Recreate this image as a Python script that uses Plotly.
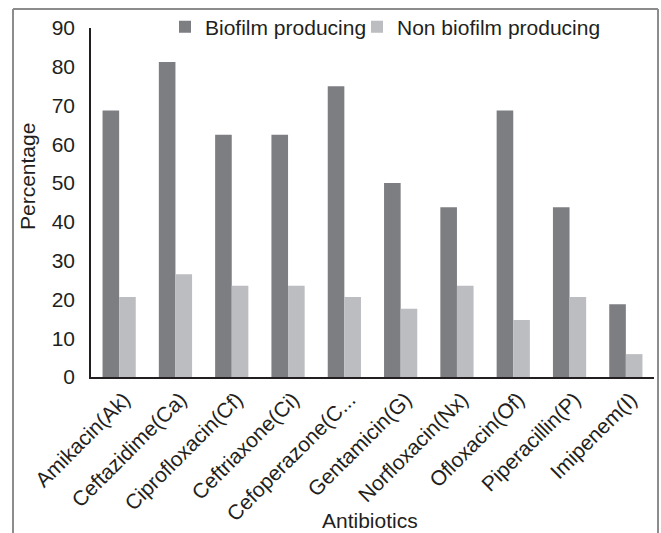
import plotly.graph_objects as go

categories = ["Amikacin(Ak)", "Ceftazidime(Ca)", "Ciprofloxacin(Cf)", "Ceftriaxone(Ci)",
              "Cefoperazone(C...", "Gentamicin(G)", "Norfloxacin(Nx)", "Ofloxacin(Of)",
              "Piperacillin(P)", "Imipenem(I)"]
biofilm = [68.75, 81.25, 62.5, 62.5, 75, 50, 43.75, 68.75, 43.75, 18.75]
non_biofilm = [20.6, 26.5, 23.5, 23.5, 20.6, 17.6, 23.5, 14.7, 20.6, 5.9]
y_ticks = [0, 10, 20, 30, 40, 50, 60, 70, 80, 90]

W, H = 661, 533
L, R, T, B = 91, 7, 28, 156
pw, ph = W - L - R, H - T - B

def px(x):
    return (x - L) / pw

def py(y):
    return (H - B - y) / ph

FONT = "Liberation Sans, Arial, sans-serif"
FS = 21
TXT = "#231f20"

fig = go.Figure()
fig.add_trace(go.Bar(x=categories, y=biofilm, name="Biofilm producing", legend="legend",
                     marker=dict(color="#7d7e82", line=dict(width=0))))
fig.add_trace(go.Bar(x=categories, y=non_biofilm, name="Non biofilm producing", legend="legend2",
                     marker=dict(color="#bcbdc1", line=dict(width=0))))

frame = dict(type="line", xref="paper", yref="paper", line=dict(color="#8c8c8c", width=2))
shapes = [
    dict(frame, x0=px(13), x1=px(13), y0=py(9), y1=py(540)),
    dict(frame, x0=px(13), x1=px(658), y0=py(9), y1=py(9)),
    dict(frame, x0=px(658), x1=px(658), y0=py(9), y1=py(540)),
]

annotations = [
    dict(text="Antibiotics", xref="paper", yref="paper", x=px(370), y=py(520),
         xanchor="center", yanchor="middle", showarrow=False, font=dict(size=FS, color=TXT)),
    dict(text="Percentage", xref="paper", yref="paper", x=px(27), y=py(177),
         xanchor="center", yanchor="middle", textangle=-90, showarrow=False,
         font=dict(size=FS, color=TXT)),
]

leg = dict(orientation="h", yanchor="middle", xanchor="left", y=py(27),
           font=dict(size=FS), bgcolor="rgba(0,0,0,0)")

fig.update_layout(
    width=W, height=H,
    margin=dict(l=L, r=R, t=T, b=B, pad=0),
    paper_bgcolor="white", plot_bgcolor="white",
    font=dict(family=FONT, size=FS, color=TXT),
    barmode="group", bargap=0.41, bargroupgap=0,
    showlegend=True,
    legend=dict(leg, x=px(165)),
    legend2=dict(leg, x=px(357)),
    shapes=shapes,
    annotations=annotations,
    xaxis=dict(showline=True, linecolor=TXT, linewidth=2, ticks="",
               tickangle=-45, showgrid=False, tickfont=dict(size=FS),
               ticklabelshift=5),
    yaxis=dict(range=[0, 90], tickvals=y_ticks, showline=True, linecolor=TXT,
               linewidth=1.5, ticks="", showgrid=False, zeroline=False,
               ticklabelstandoff=10, tickfont=dict(size=FS)),
)

fig.write_html("out.html", config={"displayModeBar": False},
               post_script="document.body.style.margin='0';")
